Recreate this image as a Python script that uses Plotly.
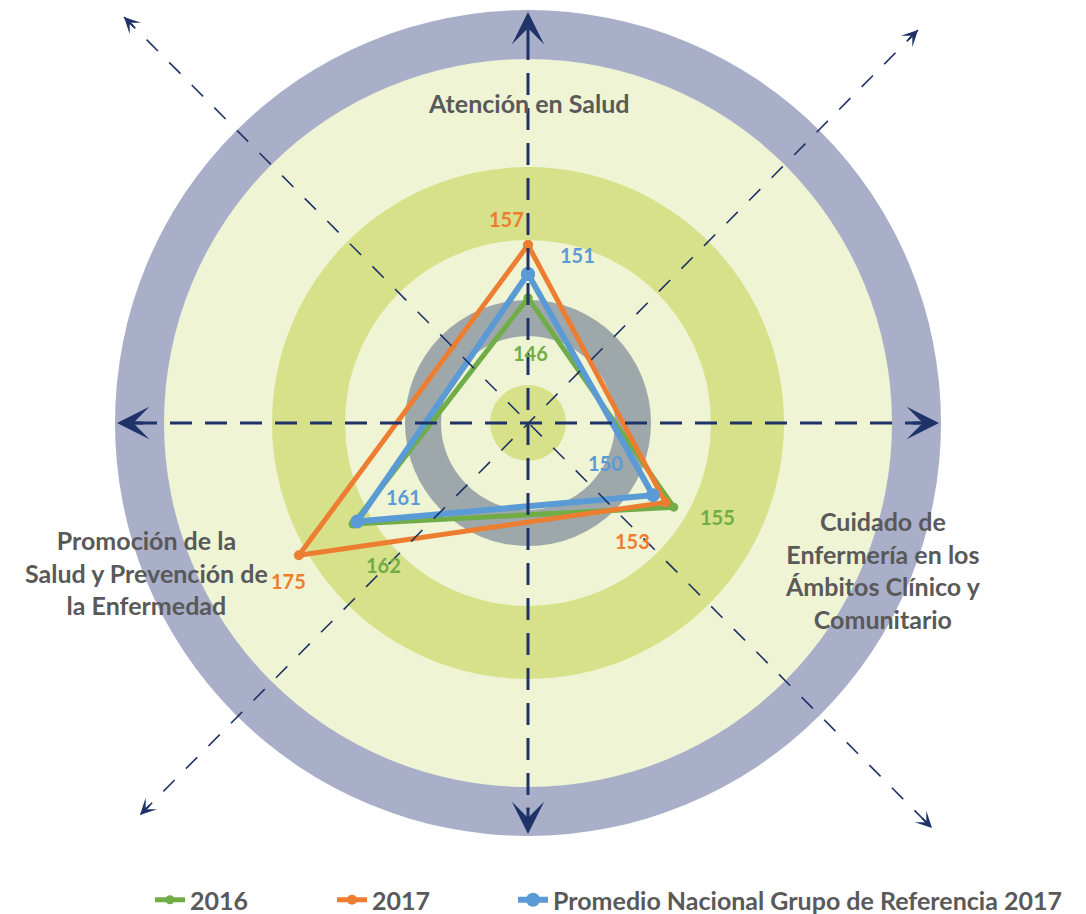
import plotly.graph_objects as go

# Data
categories = ['Atención en Salud',
              'Cuidado de<br>Enfermería en los<br>Ámbitos Clínico y<br>Comunitario',
              'Promoción de la<br>Salud y Prevención de<br>la Enfermedad']
series_names = ['2016', '2017', 'Promedio Nacional Grupo de Referencia 2017']
values_2016 = [146, 155, 162]
values_2017 = [157, 153, 175]
values_promedio = [151, 150, 161]

W, H = 1086, 914
CX, CY = 528, 423          # centre of the target, in pixels
R_OUT = 413                # outer radius of the target, in pixels
NAVY = '#1f3368'
TEXT_GRAY = '#595959'
COLORS = ['#70ad47', '#ed7d31', '#5b9bd5']


def px(x):
    return x / W


def py(y):
    return 1 - y / H


fig = go.Figure()

# Series (green, orange, blue on top)
series = [values_2016, values_2017, values_promedio]
widths = [5, 5, 6]
sizes = [9, 10, 14]
legends = ['legend', 'legend2', 'legend3']
for name, vals, color, lw, ms, lg in zip(series_names, series, COLORS, widths, sizes, legends):
    fig.add_trace(go.Scatterpolar(r=vals + vals[:1],
                                  theta=categories + categories[:1],
                                  mode='lines+markers',
                                  line=dict(color=color, width=lw),
                                  marker=dict(color=color, size=ms),
                                  name=name,
                                  legend=lg,
                                  showlegend=True,
                                  hoverinfo='skip'))

# Background rings (drawn from largest to smallest)
rings = [(R_OUT, '#a9afc8'), (364, '#eef4d4'), (256, '#d6e189'), (183, '#eef4d4'),
         (123, '#9ea8ab'), (87, '#eef4d4'), (38, '#d6e189')]
shapes = []
for r, c in rings:
    shapes.append(dict(type='circle', xref='paper', yref='paper',
                       x0=px(CX - r), x1=px(CX + r), y0=py(CY + r), y1=py(CY - r),
                       fillcolor=c, line=dict(width=0), layer='below'))

# Dashed axes
shapes.append(dict(type='line', xref='paper', yref='paper', x0=px(135), x1=px(920), y0=py(CY), y1=py(CY),
                   line=dict(color=NAVY, width=3, dash='22px,13px'), layer='above'))
shapes.append(dict(type='line', xref='paper', yref='paper', x0=px(CX), x1=px(CX), y0=py(38), y1=py(810),
                   line=dict(color=NAVY, width=3, dash='22px,13px'), layer='above'))
diag_ends = [((124, 17), (932, 828)), ((918, 30), (140, 815))]
for (x0, y0), (x1, y1) in diag_ends:
    shapes.append(dict(type='line', xref='paper', yref='paper', x0=px(x0), x1=px(x1), y0=py(y0), y1=py(y1),
                       line=dict(color=NAVY, width=1.6, dash='16px,16px'), layer='above'))

annotations = []

# Big arrowheads on the main axes
big_tips = [(CX, CY - R_OUT + 2, 0, 28), (CX, CY + R_OUT - 2, 0, -28),
            (CX - R_OUT + 2, CY, 28, 0), (CX + R_OUT - 2, CY, -28, 0)]
for x, y, ax, ay in big_tips:
    annotations.append(dict(x=px(x), y=py(y), xref='paper', yref='paper', text='',
                            showarrow=True, arrowhead=3, arrowwidth=3, arrowsize=1.8,
                            arrowcolor=NAVY, ax=ax, ay=ay))

# Small arrowheads on the diagonals
for (x0, y0), (x1, y1) in diag_ends:
    for (x, y), (ox, oy) in [((x0, y0), (x1, y1)), ((x1, y1), (x0, y0))]:
        dx, dy = ox - x, oy - y
        d = (dx ** 2 + dy ** 2) ** 0.5
        annotations.append(dict(x=px(x), y=py(y), xref='paper', yref='paper', text='',
                                showarrow=True, arrowhead=3, arrowwidth=1.8, arrowsize=1.5,
                                arrowcolor=NAVY, ax=dx / d * 16, ay=dy / d * 16))

# Category labels
cat_pos = [(528, 103), (883, 570), (146, 572)]
for text, (x, y) in zip(categories, cat_pos):
    annotations.append(dict(x=px(x), y=py(y), xref='paper', yref='paper', text=f'<b>{text}</b>',
                            showarrow=False, align='center', xanchor='center', yanchor='middle',
                            font=dict(family='Lato', size=25, color=TEXT_GRAY)))

# Value labels
label_pos = [[(530, 353), (717, 517), (383, 565)],
             [(506, 219), (632, 541), (288, 581)],
             [(577, 255), (605, 463), (403, 497)]]
for vals, color, pos in zip(series, COLORS, label_pos):
    for v, (x, y) in zip(vals, pos):
        annotations.append(dict(x=px(x), y=py(y), xref='paper', yref='paper', text=f'<b>{v}</b>',
                                showarrow=False, xanchor='center', yanchor='middle',
                                font=dict(family='Lato', size=20, color=color)))

legend_style = dict(orientation='h', yanchor='middle', y=py(900), xanchor='left',
                    bgcolor='rgba(0,0,0,0)', font=dict(family='Lato', size=25, color=TEXT_GRAY, weight='bold'))

# autoexpand off: the legends must not push the margins and squeeze the paper area
fig.update_layout(width=W, height=H,
                  margin=dict(l=0, r=0, t=0, b=0, autoexpand=False),
                  paper_bgcolor='white',
                  showlegend=True,
                  polar=dict(domain=dict(x=[px(CX - R_OUT), px(CX + R_OUT)],
                                         y=[py(CY + R_OUT), py(CY - R_OUT)]),
                             bgcolor='rgba(0,0,0,0)',
                             radialaxis=dict(range=[120, 120 + R_OUT / 4.81], visible=False),
                             angularaxis=dict(rotation=90, direction='clockwise', visible=False,
                                              categoryorder='array', categoryarray=categories)),
                  shapes=shapes,
                  annotations=annotations,
                  legend=dict(x=px(150), **legend_style),
                  legend2=dict(x=px(332), **legend_style),
                  legend3=dict(x=px(513), **legend_style),
                  font=dict(family='Lato'))

# Drop the default page margin so the figure sits in the window corner; no modebar
fig.write_html('out.html', config={'displayModeBar': False},
               post_script="document.body.style.margin = '0';")
